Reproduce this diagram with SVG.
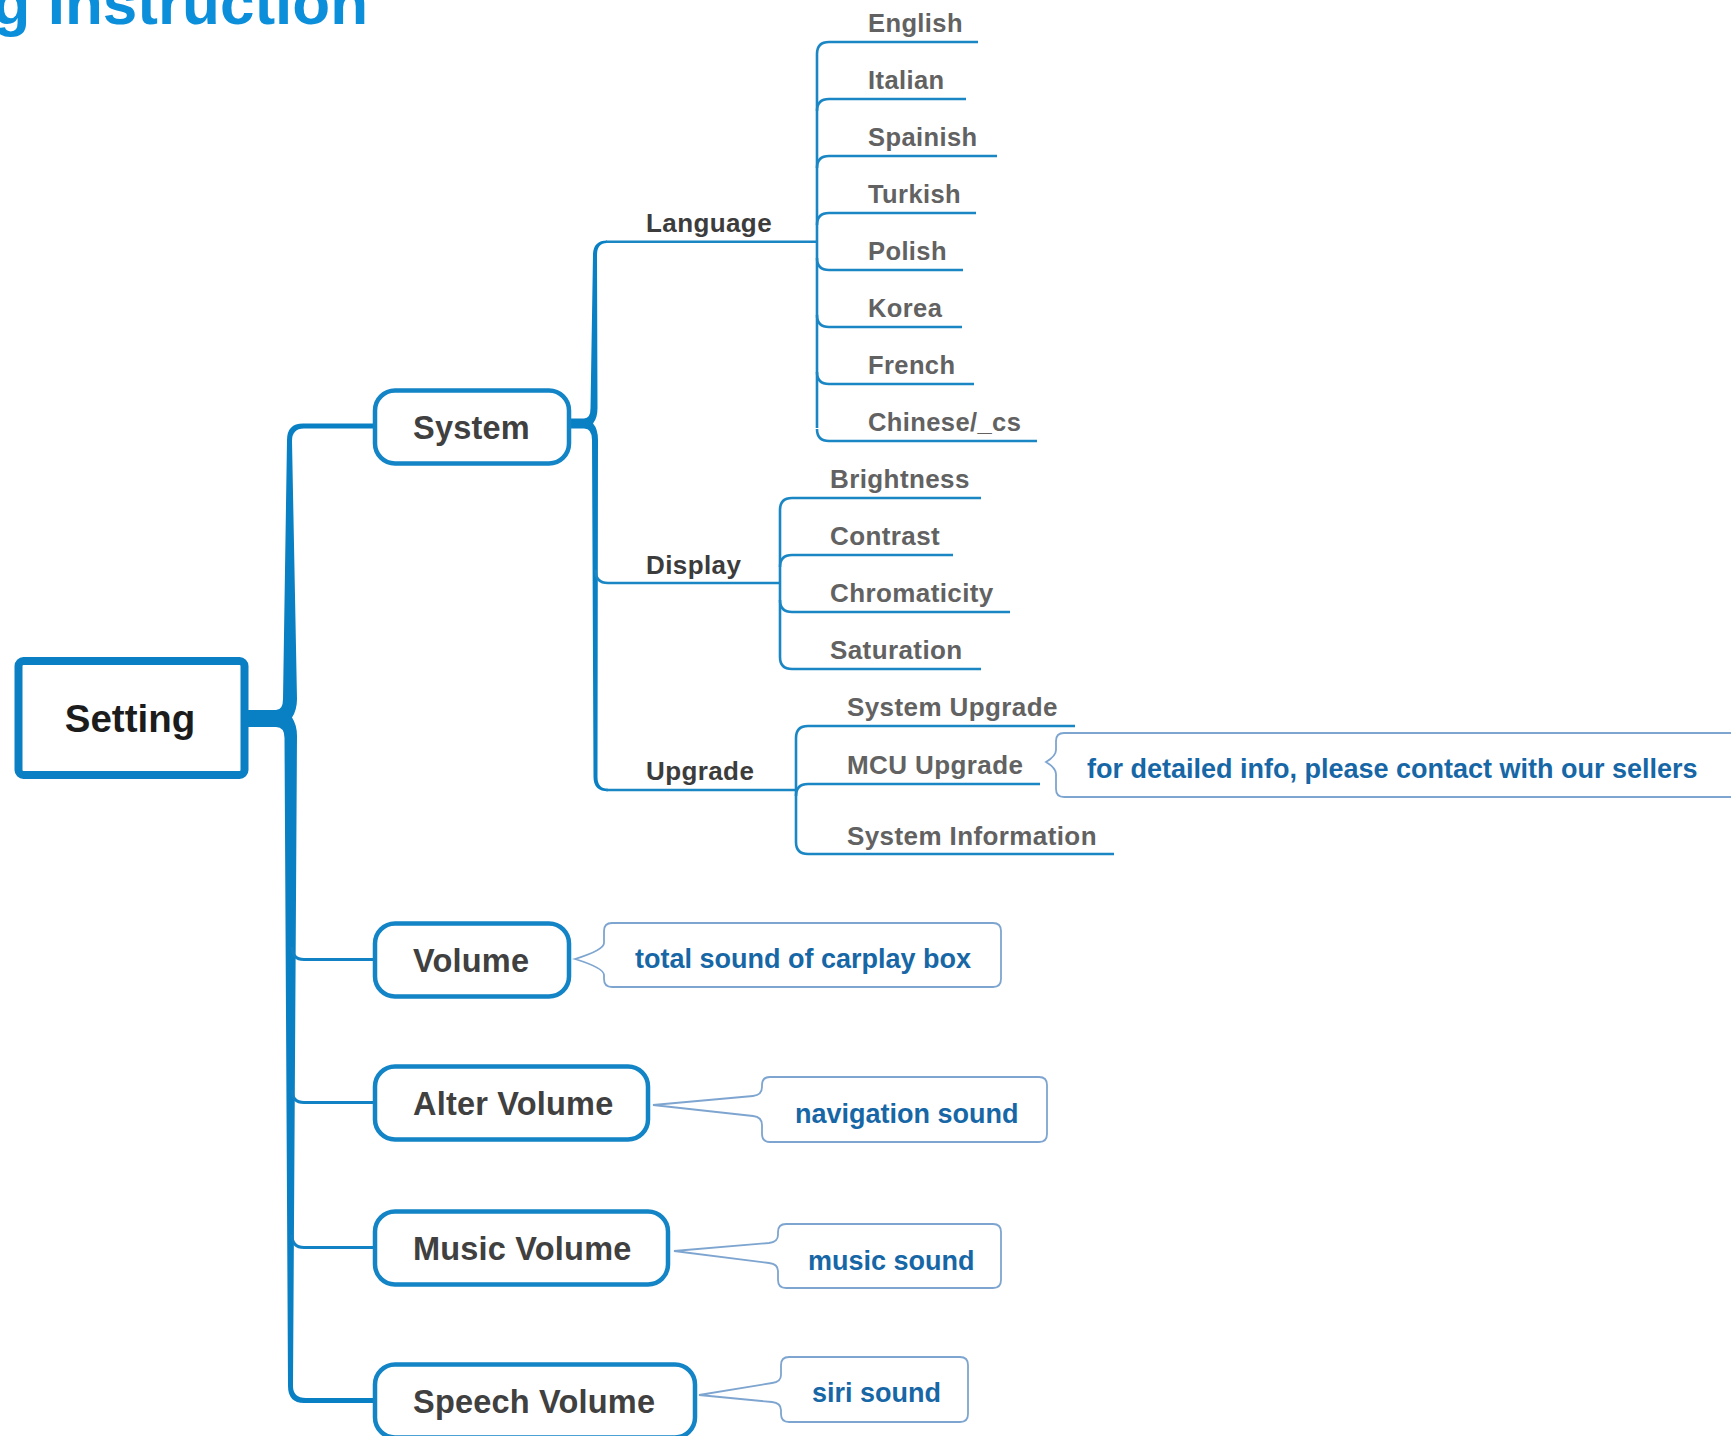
<svg xmlns="http://www.w3.org/2000/svg" width="1731" height="1436" viewBox="0 0 1731 1436">
<style>
  text { font-family: "Liberation Sans", Arial, sans-serif; font-weight: bold; }
  .title { font-size: 62px; fill: #0b8fdb; }
  .root { font-size: 38.5px; fill: #1c1c1c; }
  .main { font-size: 32.5px; fill: #404040; letter-spacing: 0.2px; }
  .sub { font-size: 26px; fill: #3c3c3c; letter-spacing: 0.4px; }
  .leaf { font-size: 25.5px; fill: #626262; letter-spacing: 0.4px; }
  .leaf2 { font-size: 26px; fill: #626262; letter-spacing: 0.4px; }
  .note { font-size: 27px; fill: #1767a6; }
  .rootbox { fill: #fff; stroke: #0a7fc3; stroke-width: 8; }
  .mainbox { fill: #fff; stroke: #1384c6; stroke-width: 4.5; }
  .trunk { fill: #0a80c4; stroke: none; }
  .line { fill: none; stroke: #1a86c3; stroke-width: 2.6; }
  .mline { fill: none; stroke: #1282c4; stroke-width: 3; }
  .callout { fill: #fff; stroke: #7ea5d0; stroke-width: 1.8; }
</style>

<text class="title" x="368" y="24" text-anchor="end">g Instruction</text>

<g id="connectors">
  <!-- main trunk from Setting -->
  <path class="trunk" d="M248,710 H276 Q283,710 283,699 L287,440 Q287,423.5 303,423.5 L373,423.5 L373,428.5 L304,428.5 Q292,428.5 292,441 L297,699 Q297,710 292,717.5 Q297,725 297,736 L293,1386 Q293,1398 306,1398 L373,1398 L373,1403 L304,1403 Q288,1403 288,1386 L284.5,738 Q284.5,727 276,727 L248,727 Z"/>
  <path class="mline" d="M292,947 Q292,959.5 304,959.5 H374"/>
  <path class="mline" d="M292,1090 Q292,1102.5 304,1102.5 H374"/>
  <path class="mline" d="M292,1235 Q292,1247.5 304,1247.5 H374"/>

  <!-- System subtree trunk -->
  <path class="trunk" d="M571,418.5 H584 Q590.5,418.5 590.5,408 L593,254 Q593.5,240.5 607,240.5 L607,243 Q597,243 597,255 L597.5,408 Q597.5,418 593,423.5 Q598,429 598,440 L597.5,777 Q597.5,788.8 608,788.8 L608,791.3 Q593.5,791.3 593.5,777 L592,440 Q592,428.5 584,428.5 H571 Z"/>
  <path class="line" d="M606,241.8 H817"/>
  <path class="line" d="M595.5,570 Q595.5,583 608,583 H780"/>
  <path class="line" d="M606,790 H796"/>

  <!-- Language children -->
  <path class="line" d="M817,54 V428"/>
  <path class="line" d="M817,54 Q817,42 829,42 H978"/>
  <path class="line" d="M817,111 Q817,99 829,99 H966"/>
  <path class="line" d="M817,168 Q817,156 829,156 H997"/>
  <path class="line" d="M817,225 Q817,213 829,213 H976"/>
  <path class="line" d="M817,258 Q817,270 829,270 H963"/>
  <path class="line" d="M817,315 Q817,327 829,327 H962"/>
  <path class="line" d="M817,372 Q817,384 829,384 H974"/>
  <path class="line" d="M817,429 Q817,441 829,441 H1037"/>

  <!-- Display children -->
  <path class="line" d="M780,510 V657"/>
  <path class="line" d="M780,510 Q780,498 792,498 H981"/>
  <path class="line" d="M780,567 Q780,555 792,555 H953"/>
  <path class="line" d="M780,600 Q780,612 792,612 H1010"/>
  <path class="line" d="M780,657 Q780,669 792,669 H981"/>

  <!-- Upgrade children -->
  <path class="line" d="M796,738 V842"/>
  <path class="line" d="M796,738 Q796,726 808,726 H1075"/>
  <path class="line" d="M796,796 Q796,784 808,784 H1040"/>
  <path class="line" d="M796,842 Q796,854 808,854 H1114"/>
</g>

<g id="setting">
  <rect class="rootbox" x="18.5" y="661" width="226" height="114" rx="5"/>
  <text class="root" x="130" y="732" text-anchor="middle">Setting</text>
</g>

<g id="system">
  <rect class="mainbox" x="375" y="390.5" width="194" height="73" rx="20"/>
  <text class="main" x="413" y="438.5">System</text>
</g>
<g id="volume">
  <rect class="mainbox" x="375" y="923.5" width="194" height="73" rx="20"/>
  <text class="main" x="413" y="971.5">Volume</text>
</g>
<g id="alter-volume">
  <rect class="mainbox" x="375" y="1066.5" width="273" height="73" rx="20"/>
  <text class="main" x="413" y="1114.5">Alter Volume</text>
</g>
<g id="music-volume">
  <rect class="mainbox" x="375" y="1211.5" width="293" height="73" rx="20"/>
  <text class="main" x="413" y="1259.5">Music Volume</text>
</g>
<g id="speech-volume">
  <rect class="mainbox" x="375" y="1364.5" width="320" height="73" rx="20"/>
  <text class="main" x="413" y="1412.5">Speech Volume</text>
</g>

<g id="language"><text class="sub" x="646" y="232">Language</text></g>
<g id="display"><text class="sub" x="646" y="574">Display</text></g>
<g id="upgrade"><text class="sub" x="646" y="780">Upgrade</text></g>

<g id="english"><text class="leaf" x="868" y="32">English</text></g>
<g id="italian"><text class="leaf" x="868" y="89">Italian</text></g>
<g id="spainish"><text class="leaf" x="868" y="146">Spainish</text></g>
<g id="turkish"><text class="leaf" x="868" y="203">Turkish</text></g>
<g id="polish"><text class="leaf" x="868" y="260">Polish</text></g>
<g id="korea"><text class="leaf" x="868" y="317">Korea</text></g>
<g id="french"><text class="leaf" x="868" y="374">French</text></g>
<g id="chinese"><text class="leaf" x="868" y="431">Chinese/_cs</text></g>

<g id="brightness"><text class="leaf2" x="830" y="488">Brightness</text></g>
<g id="contrast"><text class="leaf2" x="830" y="545">Contrast</text></g>
<g id="chromaticity"><text class="leaf2" x="830" y="602">Chromaticity</text></g>
<g id="saturation"><text class="leaf2" x="830" y="659">Saturation</text></g>

<g id="system-upgrade"><text class="leaf2" x="847" y="716">System Upgrade</text></g>
<g id="mcu-upgrade"><text class="leaf2" x="847" y="774">MCU Upgrade</text></g>
<g id="system-information"><text class="leaf2" x="847" y="845">System Information</text></g>

<g id="note-mcu">
  <path class="callout" d="M1064,733 H1760 V797 H1064 Q1056,797 1056,789 V774 Q1056,768 1046,762 Q1056,756 1056,750 V741 Q1056,733 1064,733 Z"/>
  <text class="note" x="1087" y="778">for detailed info, please contact with our sellers</text>
</g>
<g id="note-volume">
  <path class="callout" d="M612,923 H993 Q1001,923 1001,931 V979 Q1001,987 993,987 H612 Q604,987 604,979 V975 Q604,968 575,959 Q604,950 604,943 V931 Q604,923 612,923 Z"/>
  <text class="note" x="635" y="968">total sound of carplay box</text>
</g>
<g id="note-alter">
  <path class="callout" d="M770,1077 H1039 Q1047,1077 1047,1085 V1134 Q1047,1142 1039,1142 H770 Q762,1142 762,1134 V1125 Q762,1117 753,1116 L653,1105 L753,1096 Q762,1095 762,1087 V1085 Q762,1077 770,1077 Z"/>
  <text class="note" x="795" y="1123">navigation sound</text>
</g>
<g id="note-music">
  <path class="callout" d="M786,1224 H993 Q1001,1224 1001,1232 V1280 Q1001,1288 993,1288 H786 Q778,1288 778,1280 V1271 Q778,1264 769,1263 L674,1251 L769,1243 Q778,1242 778,1235 V1232 Q778,1224 786,1224 Z"/>
  <text class="note" x="808" y="1270">music sound</text>
</g>
<g id="note-speech">
  <path class="callout" d="M789,1357 H960 Q968,1357 968,1365 V1414 Q968,1422 960,1422 H789 Q781,1422 781,1414 V1410 Q781,1403 772,1402 L699,1395 L772,1383 Q781,1382 781,1375 V1365 Q781,1357 789,1357 Z"/>
  <text class="note" x="812" y="1402">siri sound</text>
</g>
</svg>
